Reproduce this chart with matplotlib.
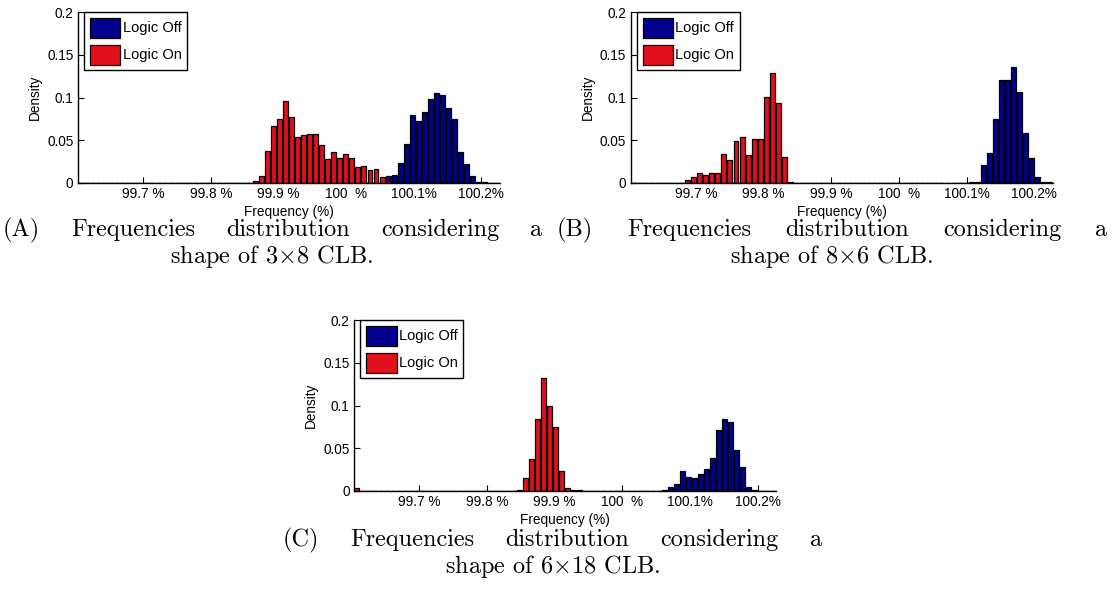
import numpy as np
import matplotlib
matplotlib.use("Agg")
import matplotlib.pyplot as plt
from matplotlib.patches import Patch

plt.rcParams['font.family'] = ['Liberation Sans', 'DejaVu Sans']
plt.rcParams['mathtext.fontset'] = 'cm'

# ---- data -------------------------------------------------------------
freq_min, freq_max, n_bins = 99.603, 100.227, 70

xtick_vals = [99.7, 99.8, 99.9, 100.0, 100.1, 100.2]
xtick_labels = ['99.7 %', '99.8 %', '99.9 %', '100  %', '100.1%', '100.2%']
ytick_vals = [0, 0.05, 0.1, 0.15, 0.2]
ytick_labels = ['0', '0.05', '0.1', '0.15', '0.2']

series_names = ['Logic Off', 'Logic On']
series_colors = ['#00008C', '#E3101C']

# Panel A (3x8 CLB): first bin index and densities
a_off_start = 51
a_off = [0.0086, 0.0098, 0.0234, 0.0456, 0.079, 0.072, 0.083, 0.0987, 0.1057,
         0.1034, 0.0882, 0.0753, 0.0359, 0.0227, 0.0082, 0.0012, 0.0008]
a_on_start = 29
a_on = [0.0023, 0.0078, 0.038, 0.0667, 0.0745, 0.0955, 0.0776, 0.0534, 0.0558,
        0.057, 0.0577, 0.0449, 0.0285, 0.0359, 0.0297, 0.0344, 0.0297, 0.0192,
        0.0203, 0.0150, 0.0168, 0.007, 0.0023]

# Panel B (8x6 CLB)
b_off_start = 56
b_off = [0.0016, 0.0012, 0.0214, 0.0347, 0.0745, 0.121, 0.120, 0.136, 0.106,
         0.059, 0.029, 0.0066, 0.0016, 0.0012]
b_on_start = 9
b_on = [0.0031, 0.0074, 0.0113, 0.0097, 0.0113, 0.0113, 0.0343, 0.0265, 0.0495,
        0.0534, 0.0331, 0.0519, 0.0519, 0.101, 0.129, 0.093, 0.0308, 0.001]

# Panel C (6x18 CLB)
c_off_start = 51
c_off = [0.0016, 0.0047, 0.0078, 0.0234, 0.0168, 0.0152, 0.0199, 0.0261, 0.039,
         0.0713, 0.0838, 0.0807, 0.048, 0.028, 0.0047, 0.0016]
c_on_start = 0
c_on = [0.003] + [0.0] * 26 + [0.0016, 0.0148, 0.037, 0.0838, 0.132, 0.099,
                               0.0745, 0.023, 0.0031, 0.0016, 0.0016]

captions = [
    (['(A)', 'Frequencies', 'distribution', 'considering', 'a'],
     r'shape of 3$\times$8 CLB.'),
    (['(B)', 'Frequencies', 'distribution', 'considering', 'a'],
     r'shape of 8$\times$6 CLB.'),
    (['(C)', 'Frequencies', 'distribution', 'considering', 'a'],
     r'shape of 6$\times$18 CLB.'),
]

# ---- figure -----------------------------------------------------------
W, H = 1113, 606
fig = plt.figure(figsize=(W / 100, H / 100), dpi=100)

edges = np.linspace(freq_min, freq_max, n_bins + 1)
centers = (edges[:-1] + edges[1:]) / 2
bw = edges[1] - edges[0]


def full(start, vals):
    arr = np.zeros(n_bins)
    arr[start:start + len(vals)] = vals
    return arr


panels = [
    ([77.6, 183], full(a_off_start, a_off), full(a_on_start, a_on)),
    ([630.5, 183], full(b_off_start, b_off), full(b_on_start, b_on)),
    ([353.8, 491], full(c_off_start, c_off), full(c_on_start, c_on)),
]

ax_w, ax_h = 422, 171
for (x0, ybot), off, on in panels:
    ax = fig.add_axes([x0 / W, (H - ybot) / H, ax_w / W, ax_h / H])
    ax.bar(centers, off, width=bw * 0.82, color=series_colors[0],
           edgecolor='black', linewidth=0.9, zorder=2)
    ax.bar(centers, on, width=bw * 0.82, color=series_colors[1],
           edgecolor='black', linewidth=0.9, zorder=3)
    ax.set_xlim(freq_min, freq_max)
    ax.set_ylim(0, 0.2)
    ax.set_xticks(xtick_vals)
    ax.set_xticklabels(xtick_labels, fontsize=9.8)
    ax.set_yticks(ytick_vals)
    ax.set_yticklabels(ytick_labels, fontsize=9.8)
    ax.tick_params(direction='in', length=4, width=0.8, pad=3)
    for s in ['top', 'right']:
        ax.spines[s].set_visible(False)
    for s in ['left', 'bottom']:
        ax.spines[s].set_linewidth(1.0)
        ax.spines[s].set_zorder(4)
    ax.set_ylabel('Density', fontsize=9.8, labelpad=4)
    ax.set_xlabel('Frequency (%)', fontsize=9.8, labelpad=3)
    handles = [Patch(facecolor=c, edgecolor='black', linewidth=0.9)
               for c in series_colors]
    leg = ax.legend(handles, series_names, loc='upper left',
                    bbox_to_anchor=(0.015, 1.0), borderaxespad=0,
                    fontsize=10.5, handlelength=2.1, handleheight=1.7,
                    handletextpad=0.15, labelspacing=0.5, borderpad=0.4,
                    fancybox=False, framealpha=1, edgecolor='black')
    leg.get_frame().set_linewidth(1.0)

# ---- captions (justified first line, centred second line) -------------
fig.canvas.draw()
renderer = fig.canvas.get_renderer()
cap_font = dict(family='cmr10', fontsize=17.5)


def justified(words, x0, x1, y):
    texts = [fig.text(0, 1 - y / H, w, va='center', ha='left', **cap_font)
             for w in words]
    widths = [t.get_window_extent(renderer).width for t in texts]
    gap = (x1 - x0 - sum(widths)) / (len(words) - 1)
    x = x0
    for t, w in zip(texts, widths):
        t.set_x(x / W)
        x += w + gap


cap_layout = [
    (3, 542, 230, 272, 256),
    (557, 1107, 230, 832, 256),
    (283, 822, 540, 553, 567),
]
for (words, line2), (x0, x1, y1, xc, y2) in zip(captions, cap_layout):
    justified(words, x0, x1, y1)
    fig.text(xc / W, 1 - y2 / H, line2, ha='center', va='center', **cap_font)

fig.savefig('out.png', dpi=100)
